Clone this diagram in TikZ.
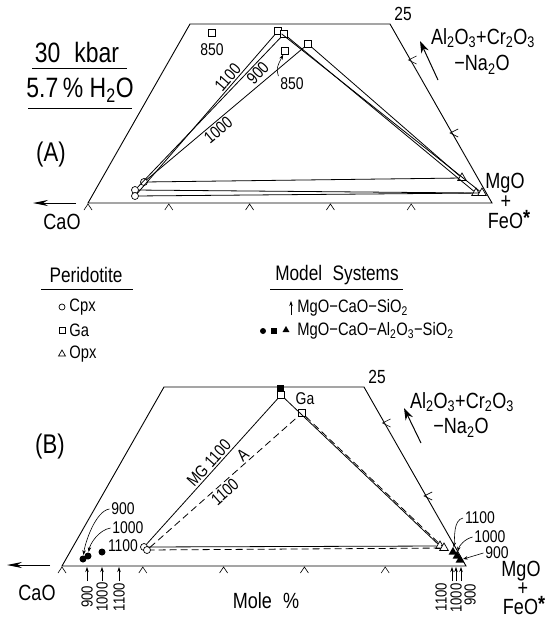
\documentclass[tikz,border=0pt]{standalone}
\usepackage{fontspec}
\setmainfont{Liberation Sans}[FakeStretch=0.82]
\usetikzlibrary{arrows.meta, shapes.geometric}
\newcommand{\chsub}[1]{\textsubscript{#1}}
\newcommand{\fs}[1]{\fontsize{#1}{#1}\selectfont}

\begin{document}
\begin{tikzpicture}[x=1pt, y=-1pt, line width=0.9pt,
    cpx/.style={circle, draw, fill=white, inner sep=0pt, minimum size=7pt, line width=0.7pt},
    ga/.style={rectangle, draw, fill=white, inner sep=0pt, minimum size=6.5pt, line width=0.7pt},
    opx/.style={regular polygon, regular polygon sides=3, draw, fill=white, inner sep=0pt, minimum size=10pt, line width=0.7pt},
    mcirc/.style={circle, fill=black, inner sep=0pt, minimum size=7pt},
    msq/.style={rectangle, fill=black, inner sep=0pt, minimum size=7pt},
    mtri/.style={regular polygon, regular polygon sides=3, fill=black, inner sep=0pt, minimum size=10pt},
    tie/.style={line width=0.8pt},
    tiedash/.style={line width=0.8pt, dash pattern=on 7pt off 4pt},
    tick/.style={line width=0.6pt},
    ptr/.style={-{Stealth[length=5pt, width=3.5pt]}, line width=0.6pt},
    big/.style={font=\fs{28}, inner sep=0pt},
    head/.style={font=\fs{21}, inner sep=0pt},
    axis/.style={font=\fs{22}, inner sep=0pt},
    key/.style={font=\fs{18}, inner sep=0pt, anchor=west},
    num/.style={font=\fs{17}, inner sep=1.5pt},
    vnum/.style={font=\fs{16}, inner sep=0pt, rotate=90}
  ]
  \useasboundingbox (0,0) rectangle (549,622);

  \foreach \dx/\dy in {0/0, -26/363} {
    \begin{scope}[shift={(\dx,\dy)}]
      \draw (190,24) -- (390,24) -- (492,203) -- (88,203) -- cycle;
      \foreach \x in {88, 168.8, 249.6, 330.4, 411.2}
        \draw[tick] (\x-4,210) -- (\x,204) -- (\x+4,210);
      \foreach \y [evaluate=\y as \ex using 390+0.57*(\y-24)] in {60, 133}
        \draw[tick] (\ex+6,\y-4) -- (\ex-2,\y) -- (\ex+6,\y+4);
      \node[font=\fs{19}] (top\dy) at (403,14) {25};
    \end{scope}
  }

  \node[big] (kbar) at (77,52) {30\enspace kbar};
  \draw (32,68) -- (127,68);
  \node[big] (water) at (80,90) {5.7\,\% H\chsub{2}O};
  \draw (28,108) -- (132,108);
  \node[font=\fs{27}] (pa) at (51,155) {(A)};

  \coordinate (caoa0) at (76,203);
  \coordinate (caoa1) at (33,203);
  \draw[-{Stealth[length=15pt, width=6pt]}] (caoa0) -- (caoa1);
  \node[axis] (caoa) at (62,222) {CaO};
  \node[font=\fs{22}] (ala) at (483,38) {Al\chsub{2}O\chsub{3}+Cr\chsub{2}O\chsub{3}};
  \node[font=\fs{22}] (naa) at (482,65) {−Na\chsub{2}O};
  \coordinate (ala0) at (438,80);
  \coordinate (ala1) at (420,41);
  \draw[-{Stealth[length=12pt, width=8pt]}, line width=1pt] (ala0) -- (ala1);
  \node[axis] (mga) at (505,183) {MgO};
  \node[axis] (pla) at (506,202) {+};
  \node[axis] (fea) at (509,220) {FeO\raisebox{3pt}{\bfseries *}};

  \node[cpx] (ca) at (144,182) {};
  \node[cpx] (cb) at (135,190) {};
  \node[cpx] (cc) at (135,196) {};
  \node[ga] (ga1100) at (278,31) {};
  \node[ga] (ga900) at (284,34) {};
  \node[ga] (ga1000) at (308,44) {};
  \node[ga] (ga850) at (212,33) {};
  \node[ga] (gb850) at (285,51) {};
  \node[opx] (ox1000) at (462,178) {};
  \node[opx] (ox900) at (476,193) {};
  \node[opx] (ox1100) at (482,193) {};

  \draw[tie] (cc) -- node[num, sloped, above, pos=0.7] {1100} (ga1100) -- (ox1100) -- (cc);
  \draw[tie] (cb) -- node[num, sloped, below, pos=0.8] {900} (ga900) -- (ox900) -- (cb);
  \draw[tie] (ca) -- node[num, sloped, below, pos=0.42] {1000} (ga1000) -- (ox1000) -- (ca);
  \node[num] (l850a) at (212,50) {850};
  \node[num] (l850b) at (292,84) {850};
  \draw[ptr] (l850b.north west) .. controls +(-2,-8) .. (gb850);

  \node[head] (peri) at (86,275) {Peridotite};
  \draw (41,289) -- (133,289);
  \node[cpx, minimum size=6pt] (kcpx) at (62,307) {};
  \node[key] (tcpx) at (69,307) {Cpx};
  \node[ga, minimum size=6pt] (kga) at (62,330) {};
  \node[key] (tga) at (69,330) {Ga};
  \node[opx, minimum size=8pt] (kopx) at (62,354) {};
  \node[key] (topx) at (69,354) {Opx};

  \node[head] (model) at (337,275) {Model\enspace Systems};
  \draw (270,289) -- (403,289);
  \coordinate (kar0) at (291,315);
  \coordinate (kar1) at (291,301);
  \draw[ptr] (kar0) -- (kar1);
  \node[key] (tmcs) at (297,308) {MgO−CaO−SiO\chsub{2}};
  \node[mcirc, minimum size=6pt] (kmc) at (263,331) {};
  \node[msq, minimum size=6pt] (kms) at (274,331) {};
  \node[mtri, minimum size=8pt] (kmt) at (286,330) {};
  \node[key] (tmcas) at (297,331) {MgO−CaO−Al\chsub{2}O\chsub{3}−SiO\chsub{2}};

  \node[font=\fs{27}] (pb) at (50,447) {(B)};
  \coordinate (caob0) at (50,565);
  \coordinate (caob1) at (7,565);
  \draw[-{Stealth[length=15pt, width=6pt]}] (caob0) -- (caob1);
  \node[axis] (caob) at (37,593) {CaO};
  \node[font=\fs{22}] (alb) at (462,402) {Al\chsub{2}O\chsub{3}+Cr\chsub{2}O\chsub{3}};
  \node[font=\fs{22}] (nab) at (461,428) {−Na\chsub{2}O};
  \coordinate (alb0) at (421,443);
  \coordinate (alb1) at (404,408);
  \draw[-{Stealth[length=12pt, width=8pt]}, line width=1pt] (alb0) -- (alb1);
  \node[axis] (mgb) at (521,571) {MgO};
  \node[axis] (plb) at (523,589) {+};
  \node[axis] (feb) at (524,606) {FeO\raisebox{3pt}{\bfseries *}};
  \node[axis] (mole) at (266,601) {Mole\enspace\%};

  \node[cpx] (cm) at (144,547) {};
  \node[cpx] (cd) at (147,550) {};
  \node[msq] (gq) at (280,388) {};
  \node[ga] (gm) at (281,395) {};
  \node[ga] (gd) at (302,413) {};
  \node[num] (galbl) at (305,399) {Ga};
  \node[opx] (om) at (440,546) {};
  \node[opx] (od) at (444,548) {};
  \node[mtri] (t1100) at (453,552) {};
  \node[mtri] (t1000) at (457,556) {};
  \node[mtri] (t900) at (460,560) {};
  \node[mcirc] (m900) at (83,559) {};
  \node[mcirc] (m1000) at (88,556) {};
  \node[mcirc] (m1100) at (102,552) {};

  \draw[tie] (cm) -- node[num, sloped, above, pos=0.52] {MG 1100} (gm) -- (om) -- (cm);
  \draw[tiedash] (cd) -- node[num, sloped, above, pos=0.66] {A} node[num, sloped, below, pos=0.47] {1100} (gd) -- (od) -- (cd);

  \node[num] (n900) at (123,509) {900};
  \node[num] (n1000) at (128,528) {1000};
  \node[num] (n1100) at (123,546) {1100};
  \draw[ptr] (n900.west) .. controls +(-14,2) and +(2,-16) .. (m900);
  \draw[ptr] (n1000.west) .. controls +(-12,2) and +(2,-12) .. (m1000);

  \node[num] (r1100) at (480,518) {1100};
  \node[num] (r1000) at (490,537) {1000};
  \node[num] (r900) at (497,553) {900};
  \draw[ptr] (r1100.west) .. controls +(-10,2) and +(2,-14) .. (t1100);
  \draw[ptr] (r1000.west) .. controls +(-8,2) and +(2,-10) .. (t1000);
  \draw[ptr] (r900.west) -- (t900);

  \foreach \nm/\x in {b900/87, b1000/102, b1100/119, s1100/452, s1000/456, s900/461} {
    \coordinate (\nm0) at (\x,581);
    \coordinate (\nm1) at (\x,567);
    \draw[ptr] (\nm0) -- (\nm1);
  }
  \node[vnum] (lb900) at (87,597) {900};
  \node[vnum] (lb1000) at (102,597) {1000};
  \node[vnum] (lb1100) at (119,597) {1100};
  \node[vnum] (ls1100) at (441,597) {1100};
  \node[vnum] (ls1000) at (456,598) {1000};
  \node[vnum] (ls900) at (470,595) {900};

\end{tikzpicture}
\end{document}
